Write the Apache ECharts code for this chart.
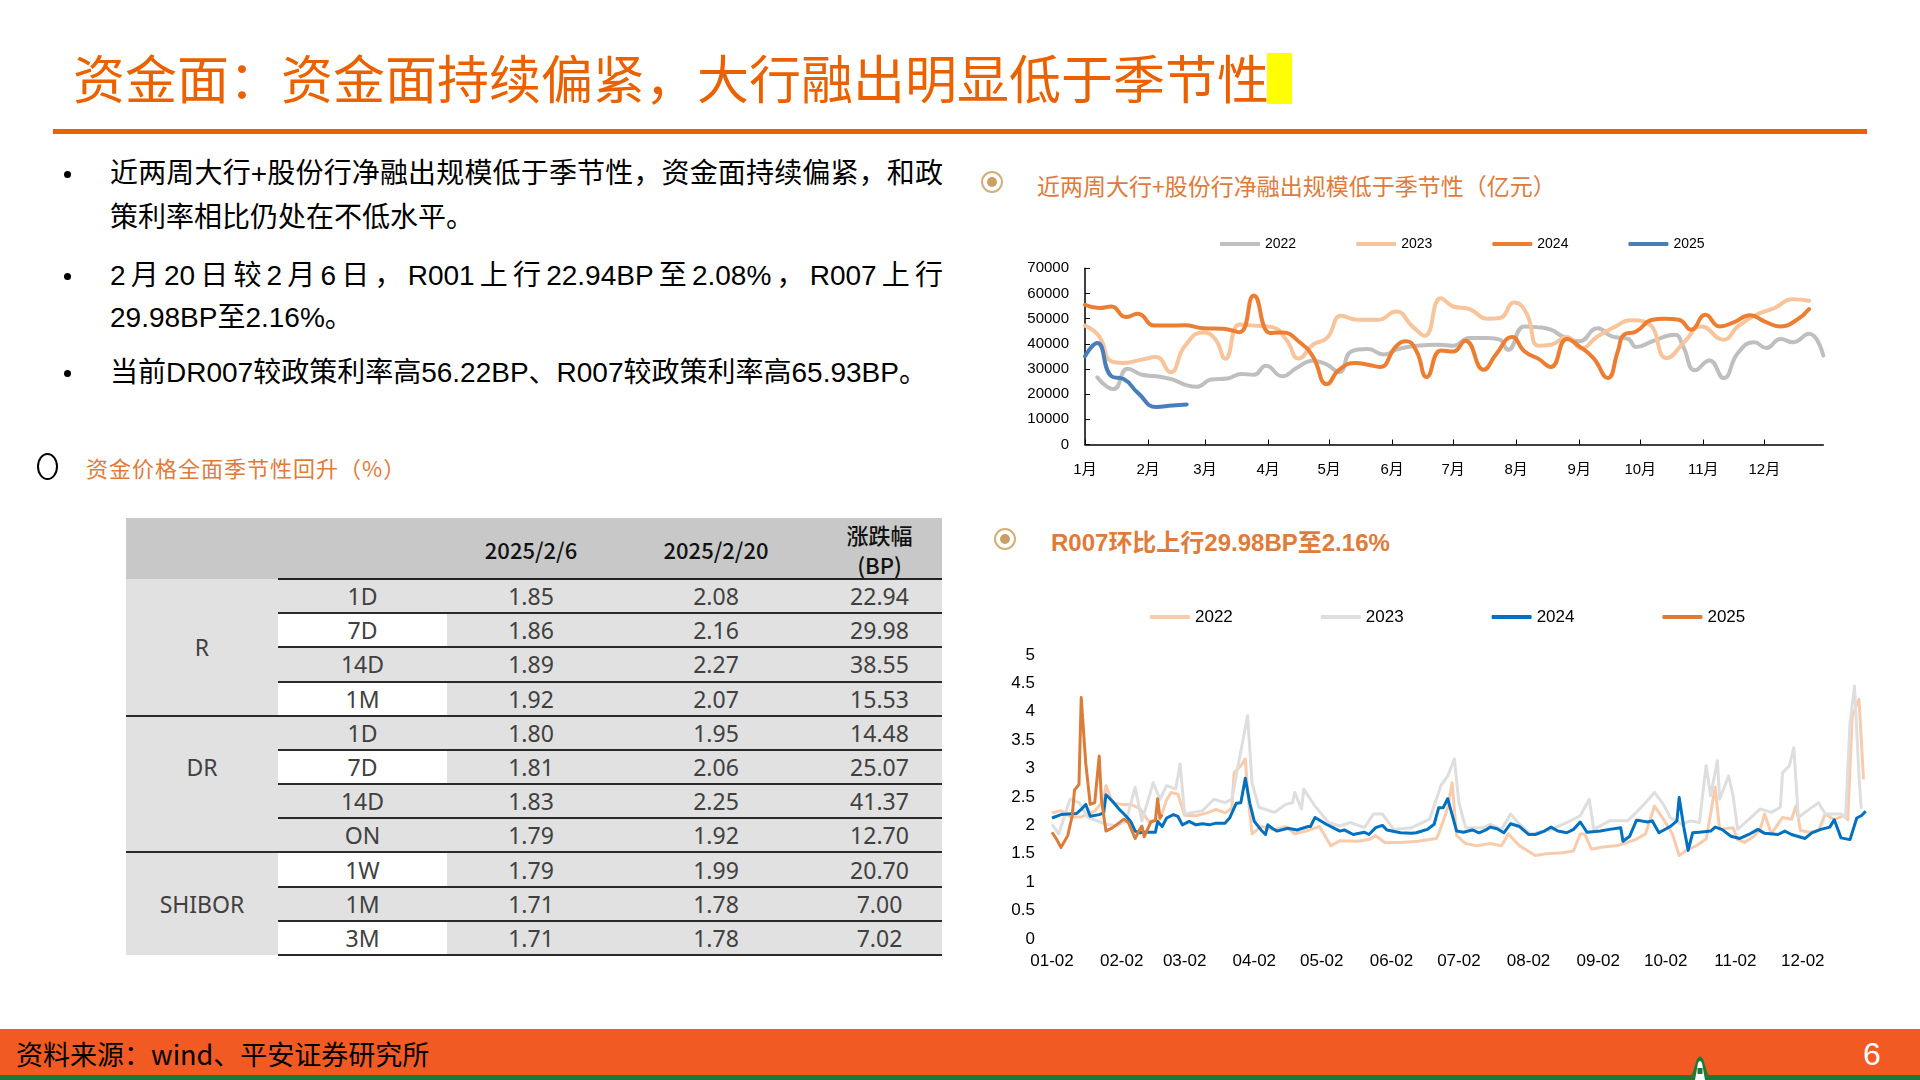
<!DOCTYPE html>
<html><head><meta charset="utf-8">
<script src="https://cdn.jsdelivr.net/npm/echarts@6/dist/echarts.min.js"></script>
<style>
html,body{margin:0;padding:0;width:1920px;height:1080px;overflow:hidden;background:#fff;}
.abs{position:absolute;}
#title{left:73px;top:47px;font-family:"Noto Sans CJK SC";font-size:52px;line-height:60px;color:#EB6100;white-space:nowrap;}
.bl{position:absolute;left:110px;font-family:"Liberation Sans","Noto Sans CJK SC";font-size:28px;line-height:36px;color:#000;white-space:nowrap;}
.just{width:833px;text-align:justify;text-align-last:justify;}
.dot{position:absolute;left:64px;width:7px;height:7px;border-radius:50%;background:#000;}
.hdr{position:absolute;font-family:"Noto Sans CJK SC","Liberation Sans";color:#E07B39;white-space:nowrap;}
.ring{position:absolute;width:18px;height:18px;border-radius:50%;border:2.5px solid #D2B07C;box-sizing:content-box;}
.ring::after{content:"";position:absolute;left:4px;top:4px;width:10px;height:10px;border-radius:50%;background:#C9A064;}
.cell{position:absolute;display:flex;align-items:center;justify-content:center;font-family:"Noto Sans","Noto Sans CJK SC";color:#404040;font-size:23px;}
</style></head>
<body>
<div id="title" class="abs">资金面：资金面持续偏紧，大行融出明显低于季节性</div>
<div class="abs" style="left:1267px;top:53px;width:25px;height:51px;background:#FFFF00;"></div>
<div class="abs" style="left:53px;top:129px;width:1814px;height:5px;background:#EB6100;"></div>

<div class="dot" style="top:171px"></div>
<div class="bl just" style="top:156px">近两周大行+股份行净融出规模低于季节性，资金面持续偏紧，和政</div>
<div class="bl" style="top:200px">策利率相比仍处在不低水平。</div>
<div class="dot" style="top:273px"></div>
<div class="bl just" style="top:258px">2月20日较2月6日，R001上行22.94BP至2.08%，R007上行</div>
<div class="bl" style="top:300px">29.98BP至2.16%。</div>
<div class="dot" style="top:370px"></div>
<div class="bl" style="top:355px">当前DR007较政策利率高56.22BP、R007较政策利率高65.93BP。</div>

<div class="abs" style="left:37px;top:453px;width:17px;height:23px;border:2px solid #000;border-radius:50%;"></div>
<div class="hdr" style="left:86px;top:452px;font-size:22px;line-height:30px;letter-spacing:1px;">资金价格全面季节性回升（%）</div>

<div class="ring" style="left:981px;top:171px"></div>
<div class="hdr" style="left:1037px;top:169px;font-size:23px;line-height:32px;">近两周大行+股份行净融出规模低于季节性（亿元）</div>
<div class="ring" style="left:994px;top:528px"></div>
<div class="hdr" style="left:1051px;top:527px;font-size:24px;line-height:32px;font-weight:bold;font-family:'Liberation Sans','Noto Sans CJK SC';">R007环比上行29.98BP至2.16%</div>

<div id="table"></div>

<div id="c1" class="abs" style="left:960px;top:220px;width:960px;height:280px;"></div>
<div id="c2" class="abs" style="left:960px;top:590px;width:960px;height:400px;"></div>

<div class="abs" style="left:0;top:1029px;width:1920px;height:46px;background:#F15A22;"></div>
<div class="abs" style="left:0;top:1075px;width:1920px;height:5px;background:#1B7A3A;"></div>
<div class="abs" style="left:16px;top:1037px;font-family:'Noto Sans CJK SC','Liberation Sans';font-size:27px;line-height:34px;color:#000;white-space:nowrap;">资料来源：wind、平安证券研究所</div>
<div class="abs" style="left:1863px;top:1034px;font-family:'Liberation Sans';font-size:32px;line-height:40px;color:#fff;">6</div>
<svg class="abs" style="left:1680px;top:1055px" width="40" height="25"><path d="M0 25 L12 20 L17 4 Q20 -1 23 4 L28 20 L40 25 Z" fill="#1B7A3A"/><path d="M15 25 L18 8 Q20 4 22 8 L25 25 Z" fill="#fff"/><rect x="17.5" y="13" width="5" height="6" fill="#1B7A3A"/></svg>

<script>
// ---------- table data ----------
const tblGroups = ['R', 'DR', '', 'SHIBOR'];
const tblGroupRows = [4, 3, 1, 3];
const tblTerms = ['1D','7D','14D','1M','1D','7D','14D','ON','1W','1M','3M'];
const tblCol1 = ['1.85','1.86','1.89','1.92','1.80','1.81','1.83','1.79','1.79','1.71','1.71'];
const tblCol2 = ['2.08','2.16','2.27','2.07','1.95','2.06','2.25','1.92','1.99','1.78','1.78'];
const tblChg  = ['22.94','29.98','38.55','15.53','14.48','25.07','41.37','12.70','20.70','7.00','7.02'];
const tblWhite = [0,1,0,1,0,1,0,0,1,0,1];
const tblHead = ['2025/2/6', '2025/2/20', '涨跌幅<br>(BP)'];

// ---------- top chart data (亿元) ----------
const monthNames = ['1月','2月','3月','4月','5月','6月','7月','8月','9月','10月','11月','12月'];
const monthStarts = [0,31,59,90,120,151,181,212,243,273,304,334];
const d2022 = [6,14,21,28,35,43,49,55,62,70,77,83,89,97,104,112,119,125,131,139,147,154,163,174,181,189,198,204,208,216,222,229,235,243,252,259,267,271,279,290,294,300,307,314,321,329,335,342,348,356,363];
const v2022 = [26700,22000,30100,27700,27100,25800,23800,22900,25800,26200,28000,27700,31300,27100,30400,33300,31700,28700,37000,37900,35700,37900,39200,39600,39200,42300,42300,41600,37600,46900,46600,45600,42900,41000,46200,42900,41900,38700,41000,43600,39000,29500,33400,26400,36300,40600,38300,41900,40600,44000,35300];
const d2023 = [0,7,13,19,28,35,42,49,58,64,69,76,83,92,99,105,112,119,126,134,144,153,161,167,175,181,189,198,204,211,217,223,229,237,244,252,261,268,277,286,295,303,314,321,330,339,348,356];
const v2023 = [47200,42900,33000,32400,33700,34700,28700,39000,44500,41900,34000,47600,47200,46600,41600,34100,39600,42300,51100,49500,49500,52800,46900,43200,58100,54800,53800,49900,50200,56400,52200,39200,39600,42700,38300,42900,46900,49300,48000,34300,41000,46900,41600,46900,51500,54200,57700,57100];
const d2024 = [0,7,13,20,26,34,41,49,58,68,76,83,91,97,106,112,119,125,133,139,145,153,158,163,168,175,181,187,196,202,210,216,223,229,237,243,250,257,262,265,271,279,285,292,298,305,312,319,327,334,342,350,356];
const v2024 = [55500,54200,54800,50600,51900,47200,47200,47300,46200,46000,44600,59200,44300,44500,40300,35000,24000,29700,32400,31700,30800,39000,41000,37000,26800,37300,36900,41200,29700,35700,42700,37000,34000,30800,41900,39000,34300,26400,37000,43600,44900,49500,49900,49500,45600,51500,46900,48500,51300,48900,46900,49500,53800];
const d2025 = [0,6,13,19,26,35,43,50];
const v2025 = [35000,40300,27100,26000,20500,14900,15500,15900];

// ---------- bottom chart data: R007 (%) ----------
const rTickDays = [1,32,60,91,121,152,182,213,244,274,305,335];
const rTickLabels = ['01-02','02-02','03-02','04-02','05-02','06-02','07-02','08-02','09-02','10-02','11-02','12-02'];
const rd2022 = [1,5,9,14,20,24,25,28,32,36,40,44,49,52,54,57,60,65,70,74,78,81,82,85,87,88,90,94,100,105,109,114,120,125,129,137,142,145,149,156,164,172,173,177,179,181,185,190,196,201,204,209,216,221,228,233,236,238,241,246,252,257,261,265,269,273,277,280,284,288,292,294,296,298,304,306,309,313,316,318,321,326,330,332,334,338,342,345,349,353,355,357,360,362];
const rv2022 = [2.22,2.26,2.15,2.15,2.25,2.45,2.70,2.40,2.37,2.37,2.30,2.07,2.10,2.45,2.58,2.55,2.18,2.17,2.22,2.28,2.22,2.30,2.93,3.05,3.17,2.60,1.85,1.98,1.92,1.98,1.85,1.90,1.98,1.64,1.73,1.72,1.75,1.82,1.70,1.70,1.72,1.77,1.85,2.30,2.75,1.82,1.68,1.64,1.68,1.64,1.85,1.64,1.47,1.50,1.52,1.55,1.85,1.85,1.58,1.62,1.64,1.70,1.76,1.85,2.34,2.11,1.85,1.47,1.58,1.65,1.76,2.20,2.67,1.93,1.96,1.75,1.70,1.80,1.93,2.20,1.85,2.14,2.11,2.34,1.91,1.88,1.91,2.20,2.10,2.17,2.10,3.93,4.22,2.81];
const rd2023 = [1,4,9,13,17,25,30,34,38,41,46,49,52,56,58,60,68,73,78,81,84,88,90,93,100,105,108,109,112,113,116,118,124,129,134,140,144,148,153,161,169,174,177,180,182,185,193,196,201,205,209,214,222,230,236,240,242,249,257,261,265,269,273,276,281,285,289,292,294,297,298,302,304,306,312,316,321,325,326,329,331,333,337,342,345,352,354,356,358,360,361];
const rv2023 = [2.02,1.85,2.46,2.40,2.14,2.02,1.99,2.08,2.67,2.08,2.75,2.46,2.70,2.64,3.08,2.20,2.26,2.46,2.40,2.46,3.10,3.93,2.75,2.32,2.23,2.37,2.40,2.58,2.29,2.64,2.46,2.34,2.05,1.99,2.05,1.96,2.20,2.20,1.93,1.96,2.11,2.70,2.87,3.17,2.40,1.96,1.96,2.02,1.93,2.20,2.02,1.85,1.91,2.05,2.17,2.46,1.93,2.08,2.08,2.23,2.40,2.58,2.37,2.14,2.02,2.08,2.05,3.05,2.52,3.14,2.46,2.87,2.52,1.93,2.14,2.29,2.23,2.32,2.93,3.05,3.37,2.14,2.26,2.40,2.20,2.20,2.14,3.81,4.45,2.87,2.29];
const rd2024 = [1,5,8,12,14,16,18,22,24,25,28,31,34,36,38,40,42,47,48,50,52,55,57,59,62,65,68,71,74,78,80,83,85,87,89,91,94,96,97,99,101,106,110,115,116,118,121,123,126,129,131,135,140,142,145,148,150,156,161,163,168,171,173,175,177,179,181,184,188,191,194,196,199,202,205,209,213,216,220,223,226,230,233,236,239,245,249,254,255,258,261,263,266,268,271,276,279,280,282,284,286,289,294,296,299,303,307,311,315,318,324,327,330,336,339,343,347,349,352,356,359,361,363];
const rv2024 = [2.13,2.19,2.20,2.21,2.28,2.37,2.16,2.19,2.22,2.54,2.42,2.28,2.16,2.07,1.90,1.87,1.88,1.88,2.07,1.98,2.13,2.19,2.16,2.01,2.07,2.01,2.03,2.01,2.04,2.04,2.13,2.39,2.40,2.83,2.39,2.07,1.92,1.84,2.01,1.95,1.90,1.95,1.92,1.98,1.98,2.14,2.07,2.02,1.96,1.90,1.92,1.84,1.88,1.84,1.96,2.00,1.92,1.87,1.86,1.87,1.93,2.02,2.31,2.31,2.47,2.19,1.90,1.88,1.92,1.87,1.92,1.97,1.94,1.87,2.03,1.98,1.84,1.84,1.90,1.97,1.90,1.87,1.93,2.06,1.88,1.90,1.93,1.96,1.72,1.81,2.09,2.08,2.06,2.08,1.87,1.98,2.08,2.49,1.98,1.56,1.87,1.88,1.90,1.97,1.93,1.81,1.77,1.84,1.93,1.86,1.84,1.90,1.84,1.77,1.87,1.93,1.97,2.10,1.78,1.75,2.13,2.17,2.25];
const rd2025 = [1,3,5,8,10,11,13,14,16,18,20,22,23,25,28,33,35,38,40,41,42,45,47,48,49,50];
const rv2025 = [1.88,1.76,1.61,1.82,2.17,2.62,2.72,4.25,3.10,2.37,2.40,3.22,2.45,1.90,1.96,2.11,2.05,1.77,1.93,1.99,1.80,2.06,2.09,2.47,2.13,2.19];

// ---------- build table ----------
(function(){
  const T = document.getElementById('table');
  const L = 126, TOP = 518, W = 816, HH = 61, RH = 376/11;
  const cols = [152,169,168,202,125];
  const colX = [L]; cols.forEach((w,i)=>colX.push(colX[i]+w));
  const add = (html, st) => { const d = document.createElement('div'); d.className = st.cls || 'abs'; d.innerHTML = html || ''; Object.assign(d.style, st.css); T.appendChild(d); return d; };
  const px = v => v + 'px';
  add('', {css:{left:px(L),top:px(TOP),width:px(W),height:px(HH),background:'#C8C8C8'}});
  add('', {css:{left:px(L),top:px(TOP+HH),width:px(W),height:px(RH*11),background:'#E1E1E1'}});
  tblWhite.forEach((w,i)=>{ if(w) add('', {css:{left:px(colX[1]),top:px(TOP+HH+i*RH),width:px(cols[1]),height:px(RH),background:'#fff'}}); });
  tblHead.forEach((h,j)=>{
    add(h, {cls:'cell', css:{left:px(colX[j+2]),top:px(TOP),width:px(cols[j+2]),height:px(HH),color:'#111',fontSize:'22px',fontWeight:'500',lineHeight:'30px',textAlign:'center',fontFamily:'"Noto Sans CJK SC","Noto Sans"'}});
  });
  add('', {css:{left:px(colX[1]),top:px(TOP+HH-1),width:px(W-cols[0]),height:'2px',background:'#222'}});
  for (let i=0;i<11;i++){
    const y = TOP+HH+i*RH;
    [tblTerms[i], tblCol1[i], tblCol2[i], tblChg[i]].forEach((t,j)=>{
      add(t, {cls:'cell', css:{left:px(colX[j+1]),top:px(y),width:px(cols[j+1]),height:px(RH)}});
    });
    const full = (i===3 || i===7);
    add('', {css:{left:px(full?L:colX[1]),top:px(y+RH-1),width:px(full?W:W-cols[0]),height:'2px',background:'#2a2a2a'}});
  }
  let r0 = 0;
  tblGroups.forEach((g,k)=>{
    add(g, {cls:'cell', css:{left:px(L),top:px(TOP+HH+r0*RH),width:px(cols[0]),height:px(RH*tblGroupRows[k])}});
    r0 += tblGroupRows[k];
  });
})();

// ---------- charts ----------
const pair = (d, v) => d.map((x, i) => [x, v[i]]);
const c1 = echarts.init(document.getElementById('c1'));
const topColors = ['#BFBFBF','#F8C49C','#ED7D31','#4A7EBB'];
const topNames = ['2022','2023','2024','2025'];
const topData = [pair(d2022,v2022), pair(d2023,v2023), pair(d2024,v2024), pair(d2025,v2025)];
c1.setOption({
  animation:false,
  textStyle:{fontFamily:'"Liberation Sans","Noto Sans CJK SC"'},
  legend:{left:255, top:10, itemWidth:40, itemHeight:4, itemGap:60, icon:'roundRect',
    textStyle:{fontSize:14, lineHeight:18, color:'#000'}, data:topNames},
  grid:{left:125, top:48.2, width:738.3, height:176.3, containLabel:false},
  xAxis:{type:'value', min:0, max:363, splitLine:{show:false},
    axisLine:{lineStyle:{color:'#000', width:1.5}},
    axisTick:{inside:true, length:5, customValues:monthStarts, lineStyle:{color:'#000'}},
    axisLabel:{customValues:monthStarts, margin:18, fontSize:15, color:'#000',
      formatter:v=>monthNames[monthStarts.indexOf(v)]}},
  yAxis:{type:'value', min:0, max:70000, interval:10000, splitLine:{show:false},
    axisLine:{show:true, lineStyle:{color:'#000', width:1.5}},
    axisTick:{show:true, inside:true, length:5, lineStyle:{color:'#000'}},
    axisLabel:{margin:16, fontSize:15, color:'#000', formatter:v=>String(v)}},
  series: topNames.map((n,i)=>({name:n, type:'line', data:topData[i], smooth:0.5, symbol:'none',
    color:topColors[i], lineStyle:{width:4, color:topColors[i], cap:'round', join:'round'}}))
});

const c2 = echarts.init(document.getElementById('c2'));
const botColors = ['#F8CBAD','#DEDEDE','#0070C0','#DB7D38'];
const botData = [pair(rd2022,rv2022), pair(rd2023,rv2023), pair(rd2024,rv2024), pair(rd2025,rv2025)];
c2.setOption({
  animation:false,
  textStyle:{fontFamily:'"Liberation Sans","Noto Sans CJK SC"'},
  legend:{left:185, top:12, itemWidth:40, itemHeight:4, itemGap:88, icon:'roundRect',
    textStyle:{fontSize:17, lineHeight:20, color:'#000'}, data:topNames},
  grid:{left:92, top:65, width:816, height:284, containLabel:false},
  xAxis:{type:'value', min:1, max:364, splitLine:{show:false}, axisLine:{show:false},
    axisTick:{show:false},
    axisLabel:{customValues:rTickDays, margin:14, fontSize:17, color:'#000',
      formatter:v=>rTickLabels[rTickDays.indexOf(v)]}},
  yAxis:{type:'value', min:0, max:5, interval:0.5, splitLine:{show:false},
    axisLine:{show:false}, axisTick:{show:false},
    axisLabel:{margin:17, fontSize:17, color:'#000'}},
  series: topNames.map((n,i)=>({name:n, type:'line', data:botData[i], symbol:'none',
    color:botColors[i], lineStyle:{width:3, color:botColors[i], join:'round'}}))
});
</script>
</body></html>
